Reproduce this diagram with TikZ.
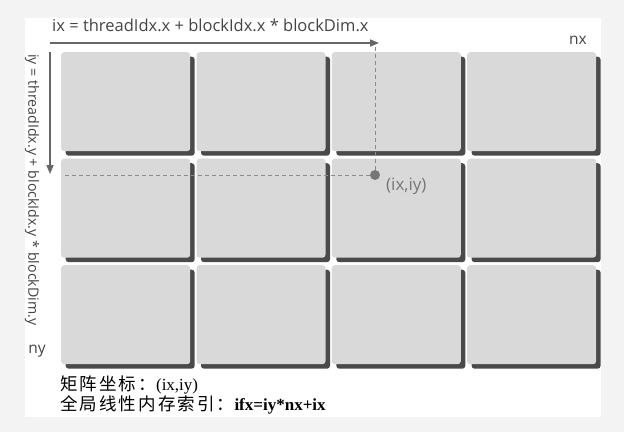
\documentclass[tikz,border=0pt]{standalone}
\usepackage{fontspec}
\setmainfont{Open Sans}
\newfontfamily\cjk[LetterSpace=12]{Noto Sans CJK SC}
\newfontfamily\serifl{Liberation Serif}
\usetikzlibrary{arrows.meta}
\definecolor{bg}{HTML}{F3F3F3}
\definecolor{blk}{HTML}{D9D9D9}
\definecolor{shd}{HTML}{4A4A4A}
\definecolor{lbl}{HTML}{444444}
\definecolor{axis}{HTML}{666666}
\definecolor{dotc}{HTML}{777777}
\definecolor{dashc}{HTML}{8A8A8A}
\tikzset{
  shadowbox/.style={fill=shd, rounded corners=3pt, minimum width=129pt, minimum height=99pt, inner sep=0pt, anchor=north west},
  blockbox/.style={fill=blk, rounded corners=3pt, minimum width=129pt, minimum height=99pt, inner sep=0pt, anchor=north west},
  axisarrow/.style={draw=axis, line width=1.6pt, -{Triangle[length=9pt,width=7pt]}},
  guide/.style={draw=dashc, line width=0.7pt, dash pattern=on 4pt off 3pt},
  lab/.style={text=lbl, inner sep=0pt},
  cjktext/.style={anchor=base west, inner sep=0pt, font=\fontsize{17.5}{20}\selectfont},
}
\newcommand{\latinpart}[1]{{\fontsize{17}{20}\selectfont\serifl #1}}
\begin{document}
\begin{tikzpicture}[x=1pt,y=-1pt]
\fill[bg] (0,0) rectangle (624,432);
\useasboundingbox (0,0) rectangle (624,432);
\fill[white] (25,18) rectangle (601,417);
% blocks
\foreach \i in {0,1,2,3}{
  \foreach \j in {0,1,2}{
    \pgfmathsetmacro{\xx}{61+135.3*\i}
    \pgfmathsetmacro{\yy}{52+106.5*\j}
    \node[shadowbox] (s\i\j) at (\xx+4.5,\yy+4.5) {};
    \node[blockbox] (b\i\j) at (\xx,\yy) {};
  }
}
% axes
\coordinate (hs) at (50,43);
\coordinate (he) at (379,43);
\coordinate (vs) at (50,52);
\coordinate (ve) at (50,174);
\draw[axisarrow] (hs) -- (he);
\draw[axisarrow] (vs) -- (ve);
% point
\node[circle, fill=dotc, minimum size=10pt, inner sep=0pt] (pt) at (375,175) {};
\coordinate (dtop) at (375,44);
\coordinate (dleft) at (62,175);
\draw[guide] (pt.north) -- (dtop);
\draw[guide] (pt.west) -- (dleft);
\node[text=dotc, font=\fontsize{17}{19}\selectfont, anchor=west, inner sep=0pt] (ptl) at (386,186) {(ix,iy)};
% labels
\node[lab, anchor=base west, font=\fontsize{16.5}{18}\selectfont] (hl) at (52,31) {ix = threadIdx.x + blockIdx.x * blockDim.x};
\node[lab, anchor=west, rotate=-90, font=\fontsize{14.2}{16}\selectfont] (vl) at (32,54) {iy = threadIdx.y + blockIdx.y * blockDim.y};
\node[lab, font=\fontsize{15.5}{17}\selectfont] (nx) at (578,40) {nx};
\node[lab, font=\fontsize{15.5}{17}\selectfont] (ny) at (37,351) {ny};
% bottom text
\node[cjktext] (t1) at (60,390) {\cjk 矩阵坐标：\latinpart{(ix,iy)}};
\node[cjktext] (t2) at (60,410) {\cjk 全局线性内存索引：\latinpart{\bfseries ifx=iy*nx+ix}};
\end{tikzpicture}
\end{document}
